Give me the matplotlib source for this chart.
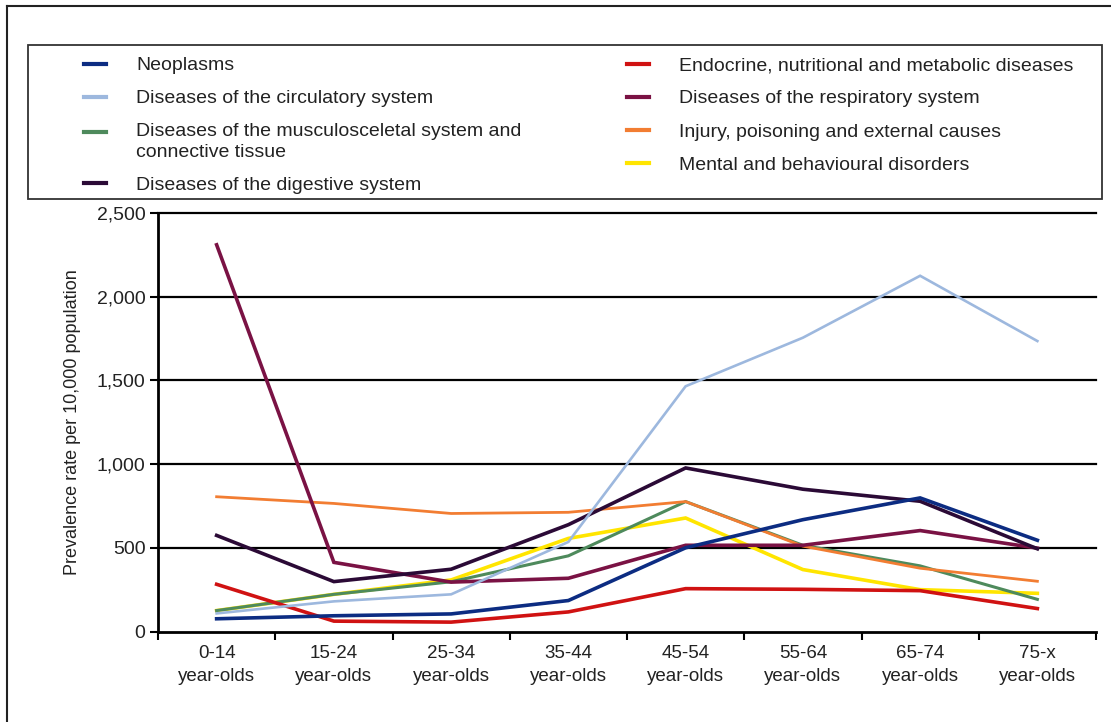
import numpy as np
import matplotlib
matplotlib.use("Agg")
import matplotlib.pyplot as plt
from matplotlib.lines import Line2D
from matplotlib.patches import Rectangle
from matplotlib.legend_handler import HandlerLine2D

plt.rcParams['font.family'] = ['Liberation Sans', 'DejaVu Sans']

# age groups and prevalence rates per 10,000 population
ages = ['0-14\nyear-olds', '15-24\nyear-olds', '25-34\nyear-olds', '35-44\nyear-olds',
        '45-54\nyear-olds', '55-64\nyear-olds', '65-74\nyear-olds', '75-x\nyear-olds']

neoplasms   = [76, 94, 105, 185, 500, 668, 798, 545]
circulatory = [108, 180, 222, 535, 1465, 1755, 2125, 1735]
musculo     = [125, 222, 297, 452, 776, 515, 392, 192]
digestive   = [574, 298, 372, 638, 977, 850, 778, 494]
endocrine   = [282, 62, 56, 117, 256, 252, 244, 137]
respiratory = [2310, 413, 295, 318, 515, 515, 603, 498]
injury      = [805, 765, 705, 712, 776, 510, 378, 300]
mental      = [125, 222, 308, 556, 678, 370, 250, 228]

# (label, values, colour, linewidth, zorder)
series = [
    ('Neoplasms', neoplasms, '#0c2c82', 2.6, 8),
    ('Diseases of the circulatory system', circulatory, '#9db8de', 1.9, 9),
    ('Diseases of the musculosceletal system and\nconnective tissue', musculo, '#4e8a5c', 2.2, 4),
    ('Diseases of the digestive system', digestive, '#2b0a36', 2.6, 7),
    ('Endocrine, nutritional and metabolic diseases', endocrine, '#d01212', 2.6, 5),
    ('Diseases of the respiratory system', respiratory, '#7a1244', 2.6, 6),
    ('Injury, poisoning and external causes', injury, '#f27d32', 2.0, 5.5),
    ('Mental and behavioural disorders', mental, '#ffe500', 2.6, 3),
]


class FirstLineHandler(HandlerLine2D):
    """Legend line placed level with the first line of a two-line label."""
    def __init__(self, shift, **kw):
        super().__init__(**kw)
        self.shift = shift

    def create_artists(self, legend, orig_handle, xdescent, ydescent, width, height,
                       fontsize, trans):
        return super().create_artists(legend, orig_handle, xdescent, ydescent - 2 * self.shift,
                                      width, height, fontsize, trans)


fig = plt.figure(figsize=(11.11, 7.22), dpi=100)
ax = fig.add_axes([158 / 1111, 1 - 631.5 / 722, 938 / 1111, (631.5 - 213) / 722])

x = np.arange(len(ages))
for name, vals, col, lw, z in series:
    ax.plot(x, vals, color=col, lw=lw, zorder=z, solid_joinstyle='miter')

ax.set_xlim(-0.5, len(ages) - 0.5)
ax.set_ylim(0, 2500)

# boundary ticks on the x axis, labels centred between them
ax.set_xticks(np.arange(-0.5, len(ages), 1.0))
ax.set_xticklabels([])
ax.set_xticks(x, minor=True)
ax.set_xticklabels(ages, minor=True, fontsize=13.5, color='#222222', linespacing=1.4)
ax.tick_params(axis='x', which='major', direction='out', length=6, width=1.5, color='black')
ax.tick_params(axis='x', which='minor', length=0, pad=10)

yt = np.arange(0, 2501, 500)
ax.set_yticks(yt)
ax.set_yticklabels(['{:,}'.format(v) for v in yt], fontsize=14, color='#222222')
ax.tick_params(axis='y', direction='out', length=6, width=1.5, color='black', pad=3)

for v in yt[1:]:
    ax.axhline(v, color='black', lw=1.6, zorder=1, clip_on=False)

for s in ['top', 'right']:
    ax.spines[s].set_visible(False)
for s in ['left', 'bottom']:
    ax.spines[s].set_linewidth(2)
    ax.spines[s].set_color('black')

ax.set_ylabel('Prevalence rate per 10,000 population', fontsize=13, color='#222222', labelpad=11)

# legend box
fig.patches.append(Rectangle((28 / 1111, 1 - 199 / 722), (1102 - 28) / 1111, (199 - 45) / 722,
                             transform=fig.transFigure, fill=False, edgecolor='#333333', lw=1.3))
handles = [Line2D([], [], color=c, lw=3) for _, _, c, _, _ in series]
labels = [n for n, _, _, _, _ in series]
hmap = {handles[2]: FirstLineHandler(7.2)}
leg = fig.legend(handles, labels, loc='upper left', bbox_to_anchor=(74 / 1111, 1 - 47 / 722),
                 ncol=2, frameon=False, fontsize=14, handlelength=1.15, handletextpad=1.55,
                 columnspacing=5.4, labelspacing=0.8, borderpad=0, labelcolor='#222222',
                 handler_map=hmap)
leg.get_texts()[2].set_linespacing(1.3)

# frame lines along the top and left edges
fig.add_artist(Line2D([7 / 1111, 1], [1 - 6 / 722, 1 - 6 / 722], transform=fig.transFigure,
                      color='#222222', lw=1.5))
fig.add_artist(Line2D([7 / 1111, 7 / 1111], [0, 1 - 6 / 722], transform=fig.transFigure,
                      color='#222222', lw=1.5))

fig.savefig('out.png', dpi=100, facecolor='white')
